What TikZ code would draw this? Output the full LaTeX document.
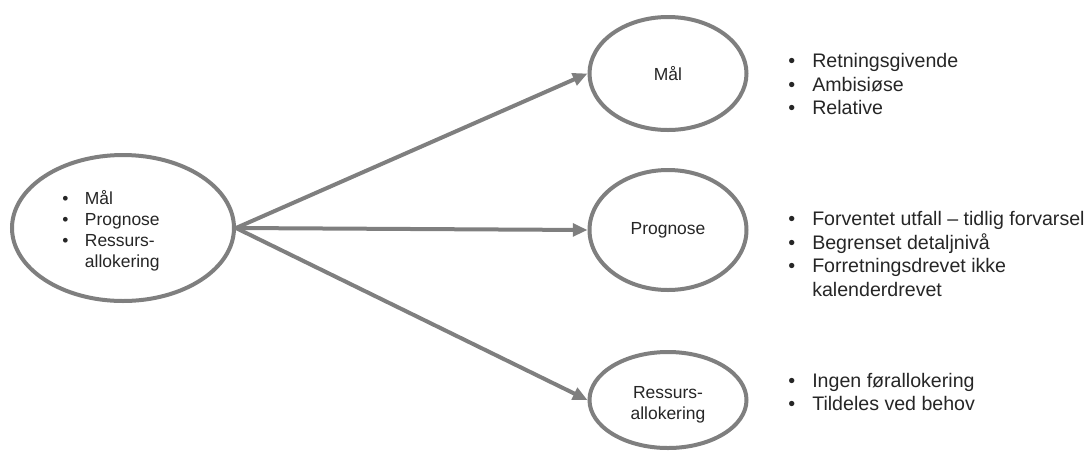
\documentclass[tikz,border=0pt]{standalone}
\usepackage{fontspec}
\setmainfont{Liberation Sans}
\usetikzlibrary{shapes.geometric,arrows.meta}
\definecolor{edgegray}{HTML}{7F7F7F}
\definecolor{txtgray}{HTML}{262626}
\newcommand\bitem[1]{\makebox[18pt][l]{\textbullet}#1}
\newcommand\bcont[1]{\hspace*{18pt}#1}
\newcommand\sitem[1]{\makebox[17pt][l]{\textbullet}#1}
\newcommand\scont[1]{\hspace*{17pt}#1}
\tikzset{
  ell/.style={ellipse, draw=edgegray, line width=3pt, fill=white, text=txtgray,
    align=center, inner sep=0pt, font=\fontsize{13.1}{15.75}\selectfont},
  elltext/.style={align=center, inner sep=0pt, text=txtgray,
    font=\fontsize{13.1}{15.75}\selectfont},
  arr/.style={draw=edgegray, line width=3pt,
    -{Triangle[length=11pt,width=9.5pt]}},
  biglist/.style={anchor=west, align=left, inner sep=0pt, text=txtgray,
    font=\fontsize{14.7}{17.6}\selectfont},
  smalllist/.style={anchor=west, align=left, inner sep=0pt, text=txtgray,
    font=\fontsize{13.1}{15.75}\selectfont}
}
\begin{document}
\begin{tikzpicture}[x=0.75pt,y=-0.75pt]
\useasboundingbox (0,0) rectangle (1090,451);
\node[ell, minimum width=166.5pt, minimum height=109.5pt] (L) at (123,228) {};
\node[smalllist] (Ltxt) at (62,231) {\sitem{Mål}\\\sitem{Prognose}\\\sitem{Ressurs-}\\\scont{allokering}};
\node[ell, minimum width=117.75pt, minimum height=84.75pt] (M) at (668,73.5) {Mål};
\node[ell, minimum width=117.75pt, minimum height=90pt] (P) at (668,230) {Prognose};
\node[ell, minimum width=117.75pt, minimum height=72pt] (R) at (668,400) {};
\node[elltext] (Rtxt0) at (668,405) {Ressurs-\\allokering};
\draw[arr] (L.east) -- (M.west);
\draw[arr] (L.east) -- (P.west);
\draw[arr] (L.east) -- (R.west);
\node[biglist] (Mtxt) at (788,84) {\bitem{Retningsgivende}\\\bitem{Ambisiøse}\\\bitem{Relative}};
\node[biglist] (Ptxt) at (788,254) {\bitem{Forventet utfall – tidlig forvarsel}\\\bitem{Begrenset detaljnivå}\\\bitem{Forretningsdrevet ikke}\\\bcont{kalenderdrevet}};
\node[biglist] (Rtxt) at (788,392) {\bitem{Ingen førallokering}\\\bitem{Tildeles ved behov}};
\end{tikzpicture}
\end{document}
